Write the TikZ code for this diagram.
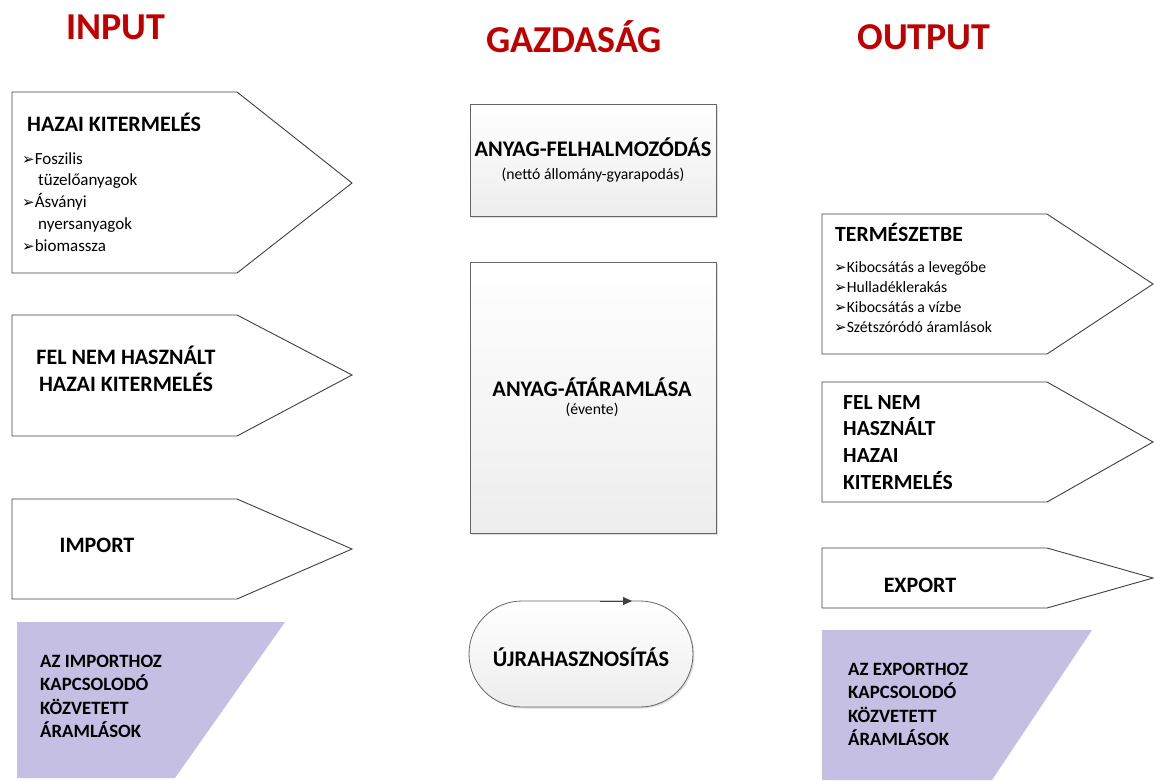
\documentclass[tikz,border=0pt]{standalone}
\usepackage{fontspec}
\setmainfont{Carlito}
\newfontfamily\symfont{DejaVu Sans}
\usetikzlibrary{shadows,arrows.meta}
\definecolor{titlered}{HTML}{C00000}
\definecolor{lilac}{HTML}{C6BFE4}
\definecolor{edge}{HTML}{404040}
\newcommand{\bul}{{\symfont\fontsize{15}{15}\selectfont ➢}}
\begin{document}
\begin{tikzpicture}[x=1pt,y=-1pt,
  flowshape/.style={draw=edge,line width=0.9pt,fill=white,line join=miter},
  gaybox/.style={draw=edge!80,line width=0.8pt,top color=white,bottom color=black!7,
    drop shadow={shadow xshift=1.5pt,shadow yshift=-1.5pt,opacity=0.25}},
  side/.style={fill=lilac,draw=none},
  head/.style={font=\fontsize{38}{38}\bfseries\selectfont,text=titlered},
  big/.style={font=\fontsize{22}{22}\bfseries\selectfont},
  bigl/.style={font=\fontsize{21.5}{26.7}\bfseries\selectfont,align=left,anchor=north west,inner sep=0pt},
  small/.style={font=\fontsize{17}{21.8}\selectfont,align=left,anchor=north west,inner sep=0pt},
  tiny/.style={font=\fontsize{15.7}{20}\selectfont,align=left,anchor=north west,inner sep=0pt},
  purp/.style={font=\fontsize{18.8}{23.4}\bfseries\selectfont,align=left,anchor=north west,inner sep=0pt}]
\useasboundingbox (0,0) rectangle (1154,780);
\fill[white] (0,0) rectangle (1154,780);

% column headings
\node[head] (hin) at (116,27) {INPUT};
\node[head] (hgz) at (574,37) {GAZDASÁG};
\node[head] (hout) at (924,37) {OUTPUT};

% input arrows
\draw[flowshape] (12,92) -- (237,92) -- (352,183) -- (237,273) -- (12,273) -- cycle;
\node[big,anchor=west,inner sep=0pt] (hk) at (27,122) {HAZAI KITERMELÉS};
\node[small] (hklist) at (22,152) {\bul Foszilis\\\hspace*{16pt}tüzelőanyagok\\\bul Ásványi\\\hspace*{16pt}nyersanyagok\\\bul biomassza};

\draw[flowshape] (12,315) -- (237,315) -- (352,375) -- (237,436) -- (12,436) -- cycle;
\node[big,align=center,font=\fontsize{22}{27}\bfseries\selectfont] (fnh) at (126,369) {FEL NEM HASZNÁLT\\HAZAI KITERMELÉS};

\draw[flowshape] (12,499) -- (237,499) -- (352,549) -- (237,599) -- (12,599) -- cycle;
\node[big] (imp) at (97,545) {IMPORT};

\fill[side] (17,622) -- (285,622) -- (175,778) -- (17,778) -- cycle;
\node[purp] (impk) at (40,655) {AZ IMPORTHOZ\\KAPCSOLODÓ\\KÖZVETETT\\ÁRAMLÁSOK};

% economy column
\draw[gaybox] (470,104) rectangle (716,216);
\node[font=\fontsize{22.3}{22}\bfseries\selectfont] (felh) at (593,147) {ANYAG-FELHALMOZÓDÁS};
\node[font=\fontsize{15.7}{15.7}\selectfont] (netto) at (593,175) {(nettó állomány-gyarapodás)};

\draw[gaybox] (470,262) rectangle (716,533);
\node[font=\fontsize{22.3}{22}\bfseries\selectfont] (atar) at (592,387) {ANYAG-ÁTÁRAMLÁSA};
\node[font=\fontsize{15.7}{15.7}\selectfont] (evente) at (592,410) {(évente)};

\draw[gaybox,rounded corners=53pt] (469,601) rectangle (693,707);
\node[font=\fontsize{22.3}{22}\bfseries\selectfont] (ujra) at (581,657) {ÚJRAHASZNOSÍTÁS};
\coordinate (loopa) at (600,601);
\coordinate (loopb) at (632,601);
\draw[edge,line width=0.8pt,-{Triangle[length=9pt,width=8pt]}] (loopa) -- (loopb);

% output arrows
\draw[flowshape] (822,214) -- (1047,214) -- (1153,284) -- (1047,354) -- (822,354) -- cycle;
\node[big,anchor=west,inner sep=0pt,font=\fontsize{21.7}{22}\bfseries\selectfont] (term) at (835,232) {TERMÉSZETBE};
\node[tiny] (termlist) at (834,261) {\bul Kibocsátás a levegőbe\\\bul Hulladéklerakás\\\bul Kibocsátás a vízbe\\\bul Szétszóródó áramlások};

\draw[flowshape] (822,382) -- (1047,382) -- (1153,442) -- (1047,502) -- (822,502) -- cycle;
\node[bigl] (fnh2) at (843,395) {FEL NEM\\HASZNÁLT\\HAZAI\\KITERMELÉS};

\draw[flowshape] (822,548) -- (1047,548) -- (1153,578) -- (1047,608) -- (822,608) -- cycle;
\node[big] (exp) at (920,585) {EXPORT};

\fill[side] (822,630) -- (1092,630) -- (992,780) -- (822,780) -- cycle;
\node[purp] (expk) at (848,663) {AZ EXPORTHOZ\\KAPCSOLODÓ\\KÖZVETETT\\ÁRAMLÁSOK};
\end{tikzpicture}
\end{document}
